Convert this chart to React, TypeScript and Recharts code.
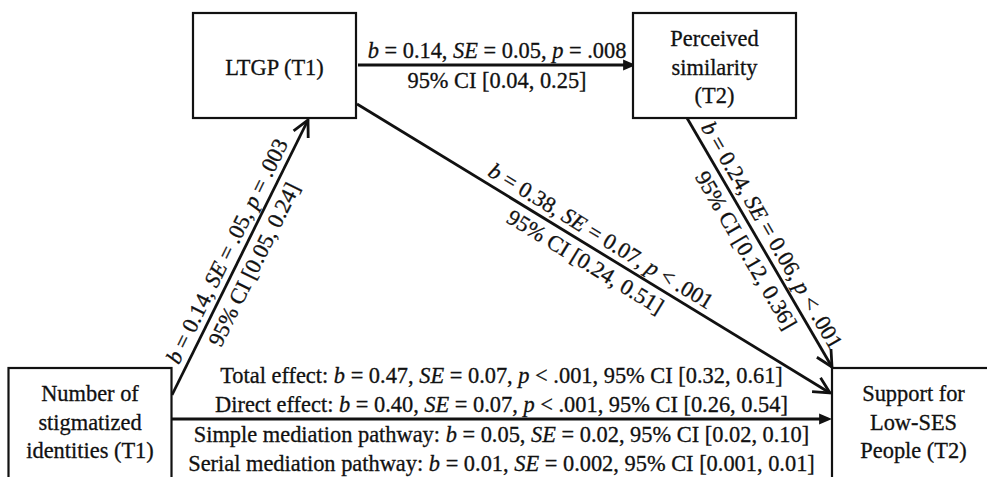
import React from "react";
import { ScatterChart, Scatter, XAxis, YAxis, ReferenceLine } from "recharts";

// Figure size (1 unit = 1 px)
const W = 987;
const H = 477;
const FONT = "'Liberation Serif', 'Times New Roman', Times, serif";
const FS = 22.4;
const INK = "#111";
const BOX_W = 163;
const BOX_H = 105;
const LINE_H = 28.5;

// Variables of the model: label lines and box centre
const nodeLabels = [
  ["LTGP (T1)"],
  ["Perceived", "similarity", "(T2)"],
  ["Number of", "stigmatized", "identities (T1)"],
  ["Support for", "Low-SES", "People (T2)"],
];
const nodeX = [274.5, 714.5, 90, 913.5];
const nodeY = [65.5, 65.5, 420.5, 420.5];

// Paths: start, end, arrow head, text above / below the arrow (*x* = italic)
const pathFrom = [[358, 65], [172, 395], [357, 104], [687, 118], [171, 419]];
const pathTo = [[636, 65], [308, 120], [830, 393], [832, 367], [832, 419]];
const pathHead = ["solid", "open", "open", "open", "solid"];
const pathAbove = [
  ["*b* = 0.14, *SE* = 0.05, *p* = .008"],
  ["*b* = 0.14, *SE* = .05, *p* = .003"],
  ["*b* = 0.38, *SE* = 0.07, *p* < .001"],
  ["*b* = 0.24, *SE* = 0.06, *p* < .001"],
  [
    "Total effect: *b* = 0.47, *SE* = 0.07, *p* < .001, 95% CI [0.32, 0.61]",
    "Direct effect: *b* = 0.40, *SE* = 0.07, *p* < .001, 95% CI [0.26, 0.54]",
  ],
];
const pathBelow = [
  ["95% CI [0.04, 0.25]"],
  ["95% CI [0.05, 0.24]"],
  ["95% CI [0.24, 0.51]"],
  ["95% CI [0.12, 0.36]"],
  [
    "Simple mediation pathway: *b* = 0.05, *SE* = 0.02, 95% CI [0.02, 0.10]",
    "Serial mediation pathway: *b* = 0.01, *SE* = 0.002, 95% CI [0.001, 0.01]",
  ],
];

const nodes = nodeLabels.map((lines, i) => ({ x: nodeX[i], y: nodeY[i], lines }));

const textStyle = {
  fontFamily: FONT,
  fontSize: FS,
  fill: INK,
  stroke: INK,
  strokeWidth: 0.3,
};

const Rich = ({ s }: { s: string }) => (
  <>
    {s.split("*").map((part, k) => (
      <tspan key={k} fontStyle={k % 2 ? "italic" : "normal"}>
        {part}
      </tspan>
    ))}
  </>
);

const NodeBox = (props: any) => {
  const { cx, cy, payload } = props;
  const lines: string[] = payload.lines;
  const top = cy - BOX_H / 2;
  // lower boxes run off the cropped figure
  const h = cy > H / 2 ? BOX_H + 40 : BOX_H;
  return (
    <g>
      <rect x={cx - BOX_W / 2} y={top} width={BOX_W} height={h} fill="#fff" stroke={INK} strokeWidth={2.2} />
      {lines.map((t, i) => (
        <text
          key={i}
          x={cx}
          y={cy + (i - (lines.length - 1) / 2) * LINE_H + 9}
          textAnchor="middle"
          {...textStyle}
        >
          {t}
        </text>
      ))}
    </g>
  );
};

const PathShape = (props: any) => {
  const { x1, y1, x2, y2, idx } = props;
  if (x1 == null) return null;
  const dx = x2 - x1;
  const dy = y2 - y1;
  const ang = Math.atan2(dy, dx);
  const deg = (ang * 180) / Math.PI;
  const mx = x1 + dx * 0.5;
  const my = y1 + dy * 0.5;
  const head = pathHead[idx];
  const above = pathAbove[idx];
  const below = pathBelow[idx];

  const L = head === "solid" ? 14 : 18;
  const a = head === "solid" ? 0.4 : 0.47;
  const p1 = [x2 - L * Math.cos(ang - a), y2 - L * Math.sin(ang - a)];
  const p2 = [x2 - L * Math.cos(ang + a), y2 - L * Math.sin(ang + a)];
  const lineEnd = head === "solid" ? [x2 - L * 0.8 * Math.cos(ang), y2 - L * 0.8 * Math.sin(ang)] : [x2, y2];

  return (
    <g>
      <line x1={x1} y1={y1} x2={lineEnd[0]} y2={lineEnd[1]} stroke={INK} strokeWidth={2.8} />
      {head === "solid" ? (
        <polygon points={`${x2},${y2} ${p1[0]},${p1[1]} ${p2[0]},${p2[1]}`} fill={INK} />
      ) : (
        <polyline
          points={`${p1[0]},${p1[1]} ${x2},${y2} ${p2[0]},${p2[1]}`}
          fill="none"
          stroke={INK}
          strokeWidth={2.8}
          strokeLinejoin="miter"
        />
      )}
      <g transform={`translate(${mx},${my}) rotate(${deg})`}>
        {above.map((s, i) => (
          <text
            key={"a" + i}
            x={0}
            y={-(7 + 29 * (above.length - 1 - i))}
            textAnchor="middle"
            {...textStyle}
          >
            <Rich s={s} />
          </text>
        ))}
        {below.map((s, i) => (
          <text key={"b" + i} x={0} y={23 + 29 * i} textAnchor="middle" {...textStyle}>
            <Rich s={s} />
          </text>
        ))}
      </g>
    </g>
  );
};

export default function App() {
  return (
    <div style={{ position: "absolute", left: 0, top: 0, width: W, height: H, background: "#fff" }}>
      <ScatterChart width={W} height={H} margin={{ top: 0, right: 0, bottom: 0, left: 0 }}>
        <XAxis type="number" dataKey="x" domain={[0, W]} hide allowDataOverflow />
        <YAxis type="number" dataKey="y" domain={[0, H]} reversed hide allowDataOverflow />
        <Scatter data={nodes} shape={NodeBox} isAnimationActive={false} />
        {pathFrom.map((f, i) => (
          <ReferenceLine
            key={i}
            segment={[
              { x: f[0], y: f[1] },
              { x: pathTo[i][0], y: pathTo[i][1] },
            ]}
            ifOverflow="visible"
            shape={(p: any) => <PathShape {...p} idx={i} />}
          />
        ))}
      </ScatterChart>
    </div>
  );
}
